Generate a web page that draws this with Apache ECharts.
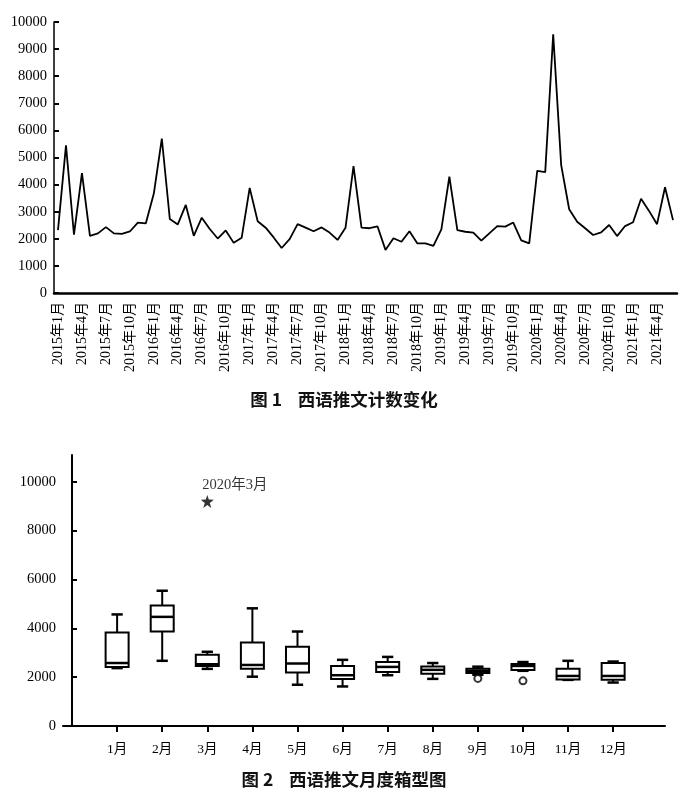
<!DOCTYPE html>
<html>
<head>
<meta charset="utf-8">
<script src="https://cdn.jsdelivr.net/npm/echarts@6/dist/echarts.min.js"></script>
<style>
html,body{margin:0;padding:0;background:#fff;}
#c{width:688px;height:797px;}
</style>
</head>
<body>
<div id="c"></div>
<script>
// ---- Figure 1 data: monthly counts 2015-01 .. 2021-06 ----
var startYear = 2015;
var monthCount = 78;
var monthlyCounts = [
  2320, 5450, 2150, 4420, 2110, 2200, 2430, 2200, 2180, 2270, 2600, 2570,
  3670, 5700, 2730, 2530, 3250, 2110, 2780, 2360, 2010, 2310, 1850, 2040,
  3880, 2650, 2410, 2050, 1660, 1990, 2540, 2410, 2280, 2420, 2230, 1960,
  2410, 4680, 2410, 2390, 2460, 1590, 2020, 1890, 2280, 1830, 1830, 1740,
  2350, 4290, 2320, 2260, 2230, 1930, 2200, 2470, 2450, 2600, 1940, 1830,
  4510, 4460, 9550, 4720, 3090, 2630, 2390, 2140, 2240, 2510, 2100, 2470,
  2610, 3480, 3030, 2540, 3900, 2690
];
var monthCategories = [];
for (var i = 0; i < monthCount; i++) {
  monthCategories.push((startYear + Math.floor(i / 12)) + '年' + (i % 12 + 1) + '月');
}

// ---- Figure 2 data: monthly box plot ----
var boxMonths = ['1月','2月','3月','4月','5月','6月','7月','8月','9月','10月','11月','12月'];
var boxMonthIndex = [1,2,3,4,5,6,7,8,9,10,11,12];
// [min, Q1, median, Q3, max]
var boxStats = [
  [2370, 2420, 2580, 3830, 4570],
  [2670, 3870, 4470, 4940, 5540],
  [2340, 2460, 2530, 2920, 3040],
  [2020, 2350, 2500, 3420, 4820],
  [1690, 2190, 2560, 3250, 3870],
  [1620, 1920, 2080, 2460, 2710],
  [2080, 2210, 2420, 2620, 2830],
  [1930, 2140, 2300, 2440, 2580],
  [2100, 2170, 2260, 2350, 2430],
  [2260, 2290, 2460, 2540, 2620],
  [1890, 1900, 2050, 2350, 2670],
  [1780, 1890, 2050, 2580, 2640]
];
var outlierMonths = [9, 10];
var outlierValues = [1950, 1850];
var extremeMonth = [3];
var extremeValue = [9200];
var extremeLabel = '2020年3月';
var yTicks2 = [0, 2000, 4000, 6000, 8000, 10000];

var boxData = boxStats.map(function (s, k) { return [boxMonthIndex[k]].concat(s); });
var outlierData = outlierMonths.map(function (m, k) { return [m, outlierValues[k]]; });
var extremeData = extremeMonth.map(function (m, k) { return [m, extremeValue[k]]; });

var serif = "'Liberation Serif', 'Times New Roman', 'Noto Sans CJK SC', serif";
var hei = "'Noto Sans CJK SC', sans-serif";

var chart = echarts.init(document.getElementById('c'), null, {renderer: 'canvas'});

var starPath = 'path://M50,0 L61.8,36.2 L100,38.2 L69.1,61.8 L80.9,100 L50,77.6 L19.1,100 L30.9,61.8 L0,38.2 L38.2,36.2 Z';

chart.setOption({
  backgroundColor: '#fff',
  animation: false,
  title: [
    {text: '图 1    西语推文计数变化', left: 'center', top: 386,
     textStyle: {fontFamily: hei, fontSize: 17.5, fontWeight: 'bold', color: '#111'}},
    {text: '图 2    西语推文月度箱型图', left: 'center', top: 766,
     textStyle: {fontFamily: hei, fontSize: 17.5, fontWeight: 'bold', color: '#111'}}
  ],
  grid: [
    {left: 54, right: 11, top: 22, bottom: 504},
    {left: 63, right: 23, top: 455, bottom: 71}
  ],
  xAxis: [
    {
      type: 'category', gridIndex: 0, data: monthCategories, boundaryGap: true,
      axisLine: {lineStyle: {color: '#000', width: 2.5}},
      axisTick: {inside: true, length: 5, interval: 2, lineStyle: {color: '#000', width: 1.5}},
      axisLabel: {interval: 2, rotate: 90, margin: 9, color: '#000', fontFamily: serif, fontSize: 14},
      splitLine: {show: false}
    },
    {
      type: 'value', gridIndex: 1, min: -0.2, max: 13.15,
      axisLine: {lineStyle: {color: '#000', width: 2}},
      axisTick: {inside: false, length: 6, customValues: boxMonthIndex, lineStyle: {color: '#000', width: 2}},
      axisLabel: {customValues: boxMonthIndex, margin: 17, color: '#000', fontFamily: serif, fontSize: 13.5,
        formatter: function (v) { return boxMonths[Math.round(v) - 1] || ''; }},
      splitLine: {show: false}
    }
  ],
  yAxis: [
    {
      type: 'value', gridIndex: 0, min: 0, max: 10000, interval: 1000,
      axisLine: {show: true, lineStyle: {color: '#000', width: 1.5}},
      axisTick: {show: true, inside: true, length: 5, lineStyle: {color: '#000', width: 2}},
      axisLabel: {margin: 7, color: '#000', fontFamily: serif, fontSize: 14.5,
        formatter: function (v) { return String(v); }},
      splitLine: {show: false}
    },
    {
      type: 'value', gridIndex: 1, min: 0, max: 11100,
      axisLine: {show: true, lineStyle: {color: '#000', width: 2}},
      axisTick: {show: true, inside: true, length: 5, customValues: yTicks2, lineStyle: {color: '#000', width: 2}},
      axisLabel: {margin: 7, color: '#000', fontFamily: serif, fontSize: 14.5, customValues: yTicks2,
        formatter: function (v) { return v > 10000 ? '' : String(v); }},
      splitLine: {show: false}
    }
  ],
  series: [
    {
      type: 'line', xAxisIndex: 0, yAxisIndex: 0, data: monthlyCounts,
      symbol: 'none', lineStyle: {color: '#000', width: 1.8}, z: 3
    },
    {
      type: 'custom', xAxisIndex: 1, yAxisIndex: 1, data: boxData,
      renderItem: function (params, api) {
        var x = api.value(0);
        var pMin = api.coord([x, api.value(1)]);
        var pQ1 = api.coord([x, api.value(2)]);
        var pMed = api.coord([x, api.value(3)]);
        var pQ3 = api.coord([x, api.value(4)]);
        var pMax = api.coord([x, api.value(5)]);
        var hw = api.size([0.51, 0])[0] / 2;
        var cw = api.size([0.25, 0])[0] / 2;
        var st = {stroke: '#000', lineWidth: 2, fill: null};
        return {
          type: 'group',
          children: [
            {type: 'line', shape: {x1: pMax[0], y1: pMax[1], x2: pQ3[0], y2: pQ3[1]}, style: st},
            {type: 'line', shape: {x1: pMin[0], y1: pMin[1], x2: pQ1[0], y2: pQ1[1]}, style: st},
            {type: 'line', shape: {x1: pMax[0] - cw, y1: pMax[1], x2: pMax[0] + cw, y2: pMax[1]}, style: {stroke: '#000', lineWidth: 2.5}},
            {type: 'line', shape: {x1: pMin[0] - cw, y1: pMin[1], x2: pMin[0] + cw, y2: pMin[1]}, style: {stroke: '#000', lineWidth: 2.5}},
            {type: 'rect', shape: {x: pQ3[0] - hw, y: pQ3[1], width: hw * 2, height: pQ1[1] - pQ3[1]},
             style: {stroke: '#000', lineWidth: 2, fill: '#fff'}},
            {type: 'line', shape: {x1: pMed[0] - hw, y1: pMed[1], x2: pMed[0] + hw, y2: pMed[1]}, style: {stroke: '#000', lineWidth: 2.5}}
          ]
        };
      },
      z: 3
    },
    {
      type: 'scatter', xAxisIndex: 1, yAxisIndex: 1, data: outlierData,
      symbol: 'circle', symbolSize: 7,
      itemStyle: {color: '#fff', borderColor: '#000', borderWidth: 2}, z: 4
    },
    {
      type: 'scatter', xAxisIndex: 1, yAxisIndex: 1, data: extremeData,
      symbol: starPath, symbolSize: 13,
      itemStyle: {color: '#000'},
      label: {show: true, position: 'top', align: 'left', distance: 3, offset: [-5, 1],
        formatter: function () { return extremeLabel; },
        color: '#000', fontFamily: serif, fontSize: 14.5},
      z: 4
    }
  ]
});
</script>
</body>
</html>
